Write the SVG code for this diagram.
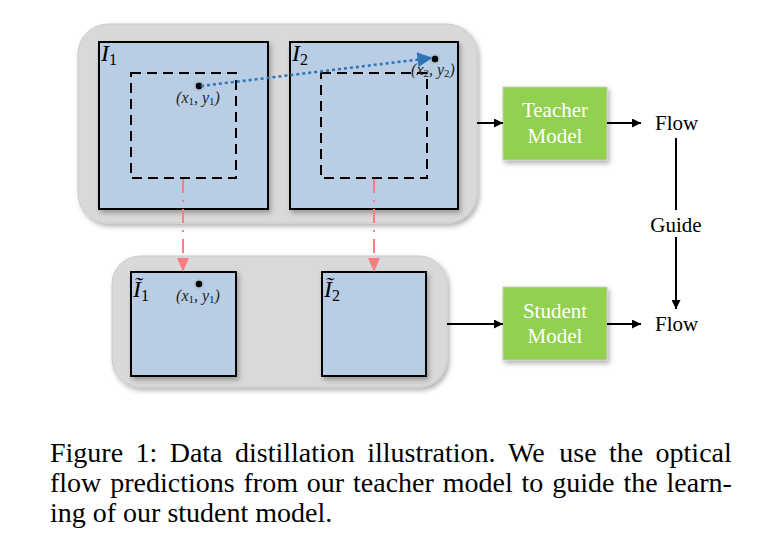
<svg xmlns="http://www.w3.org/2000/svg" width="758" height="541" viewBox="0 0 758 541">
<defs>
<filter id="sh" x="-10%" y="-10%" width="125%" height="125%">
<feDropShadow dx="2" dy="3" stdDeviation="2.5" flood-color="#000" flood-opacity="0.3"/>
</filter>
<filter id="glow" x="-100%" y="-100%" width="300%" height="300%">
<feDropShadow dx="0" dy="0" stdDeviation="1.5" flood-color="#000" flood-opacity="0.4"/>
</filter>
<marker id="ab" viewBox="0 0 10 10" refX="10" refY="5" markerWidth="4.5" markerHeight="4.5" orient="auto" markerUnits="strokeWidth">
<path d="M0,0 L10,5 L0,10 z" fill="#000"/>
</marker>
<marker id="blue" viewBox="0 0 10 10" refX="9" refY="5" markerWidth="6.5" markerHeight="6" orient="auto" markerUnits="strokeWidth">
<path d="M0,0 L10,5 L0,10 z" fill="#2E75B6"/>
</marker>
</defs>
<style>
.cont{fill:#D9D9D9;stroke:#CBCBCB;stroke-width:1}
.img{fill:#B9CDE5;stroke:#000;stroke-width:2}
.crop{fill:none;stroke:#000;stroke-width:2;stroke-dasharray:10 6}
.model{fill:#92D050;stroke:#C9C9C9;stroke-width:1}
.mt{font-family:"Liberation Serif",serif;font-size:21px;fill:#fff;text-anchor:middle}
.lbl{font-family:"Liberation Serif",serif;font-size:21px;fill:#000}
.iv{font-family:"Liberation Serif",serif;font-style:italic;font-size:24px;fill:#000}
.co{font-family:"Liberation Serif",serif;font-style:italic;font-size:16px;fill:#222;text-anchor:middle}
.cap{font-family:"Liberation Serif",serif;font-size:28px;fill:#000}
.blk{stroke:#000;stroke-width:2;fill:none}
.red{stroke:#FF7C80;stroke-width:2;fill:none;stroke-dasharray:14 7 2 7}
</style>
<rect width="758" height="541" fill="#fff"/>

<g id="teacher-group">
<rect class="cont" x="78" y="24" width="399" height="199" rx="30" filter="url(#sh)"/>
</g>
<g id="student-group">
<rect class="cont" x="112" y="256" width="335" height="131" rx="28" filter="url(#sh)"/>
</g>

<g id="I1">
<rect class="img" x="99" y="42" width="169" height="167" filter="url(#sh)"/>
<rect class="crop" x="131" y="73" width="105" height="105"/>
<text class="iv" x="101" y="61">I<tspan font-size="16" font-style="normal" dy="4">1</tspan></text>
<circle cx="199" cy="86" r="3.2" fill="#000" filter="url(#glow)"/>
<text class="co" x="198" y="103">(x<tspan font-size="11" font-style="normal" dy="2">1</tspan><tspan dy="-2">, y</tspan><tspan font-size="11" font-style="normal" dy="2">1</tspan><tspan dy="-2">)</tspan></text>
</g>

<g id="I2">
<rect class="img" x="290" y="42" width="168" height="167" filter="url(#sh)"/>
<rect class="crop" x="321" y="73" width="106" height="105"/>
<text class="iv" x="292" y="61">I<tspan font-size="16" font-style="normal" dy="4">2</tspan></text>
<circle cx="435" cy="59" r="3.2" fill="#000" filter="url(#glow)"/>
<text class="co" x="433" y="75">(x<tspan font-size="11" font-style="normal" dy="2">2</tspan><tspan dy="-2">, y</tspan><tspan font-size="11" font-style="normal" dy="2">2</tspan><tspan dy="-2">)</tspan></text>
</g>

<g id="It1">
<rect class="img" x="131" y="272" width="105" height="104" filter="url(#sh)"/>
<text class="iv" x="133" y="297">Ĩ<tspan font-size="16" font-style="normal" dy="4">1</tspan></text>
<circle cx="199" cy="284" r="3.2" fill="#000" filter="url(#glow)"/>
<text class="co" x="198" y="301">(x<tspan font-size="11" font-style="normal" dy="2">1</tspan><tspan dy="-2">, y</tspan><tspan font-size="11" font-style="normal" dy="2">1</tspan><tspan dy="-2">)</tspan></text>
</g>

<g id="It2">
<rect class="img" x="322" y="272" width="104" height="104" filter="url(#sh)"/>
<text class="iv" x="324" y="297">Ĩ<tspan font-size="16" font-style="normal" dy="4">2</tspan></text>
</g>

<g id="teacher">
<rect class="model" x="503" y="87" width="104" height="73" filter="url(#sh)"/>
<text class="mt" x="555" y="117">Teacher</text>
<text class="mt" x="555" y="143">Model</text>
</g>

<g id="student">
<rect class="model" x="503" y="287" width="104" height="73" filter="url(#sh)"/>
<text class="mt" x="555" y="318">Student</text>
<text class="mt" x="555" y="343">Model</text>
</g>

<g id="flow1"><text class="lbl" x="655" y="130">Flow</text></g>
<g id="flow2"><text class="lbl" x="655" y="331">Flow</text></g>
<g id="guide"><text class="lbl" x="676" y="232" text-anchor="middle">Guide</text></g>

<g id="connectors">
<line x1="201" y1="86" x2="431" y2="58" stroke="#2E75B6" stroke-width="2.5" stroke-dasharray="3 3" marker-end="url(#blue)"/>
<line class="red" x1="183" y1="179" x2="183" y2="259"/>
<path d="M177,258 L189,258 L183,272 z" fill="#FF7C80"/>
<line class="red" x1="374" y1="179" x2="374" y2="259"/>
<path d="M368,258 L380,258 L374,272 z" fill="#FF7C80"/>
<line class="blk" x1="477" y1="123" x2="503" y2="123" marker-end="url(#ab)"/>
<line class="blk" x1="607" y1="123" x2="641" y2="123" marker-end="url(#ab)"/>
<line class="blk" x1="447" y1="324" x2="503" y2="324" marker-end="url(#ab)"/>
<line class="blk" x1="607" y1="324" x2="641" y2="324" marker-end="url(#ab)"/>
<line class="blk" x1="676" y1="138" x2="676" y2="210"/>
<line class="blk" x1="676" y1="237" x2="676" y2="309" marker-end="url(#ab)"/>
</g>

<g id="caption">
<text class="cap" y="462"><tspan x="50">Figure</tspan><tspan x="135.5">1:</tspan><tspan x="169.7">Data</tspan><tspan x="235">distillation</tspan><tspan x="367.2">illustration.</tspan><tspan x="508">We</tspan><tspan x="559.3">use</tspan><tspan x="609">the</tspan><tspan x="655.6">optical</tspan></text>
<text class="cap" y="492"><tspan x="50">flow</tspan><tspan x="110.2">predictions</tspan><tspan x="243.5">from</tspan><tspan x="306.8">our</tspan><tspan x="353">teacher</tspan><tspan x="442.7">model</tspan><tspan x="521.6">to</tspan><tspan x="552.3">guide</tspan><tspan x="623.4">the</tspan><tspan x="666.5">learn-</tspan></text>
<text class="cap" x="50" y="522">ing of our student model.</text>
</g>
</svg>
